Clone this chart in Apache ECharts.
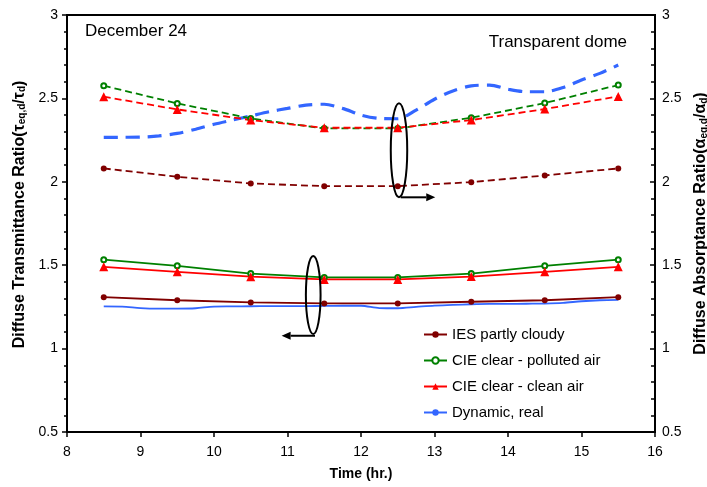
<!DOCTYPE html>
<html>
<head>
<meta charset="utf-8">
<script src="https://cdn.jsdelivr.net/npm/echarts@6/dist/echarts.min.js"></script>
<style>
html,body{margin:0;padding:0;background:#fff;}
#chart{width:707px;height:487px;}
</style>
</head>
<body>
<div id="chart"></div>
<script>
// ---- data ----
var hours = [8.5, 9.5, 10.5, 11.5, 12.5, 13.5, 14.5, 15.5];
// Diffuse transmittance ratio (left axis, solid lines)
var iesTrans = [1.308, 1.290, 1.277, 1.271, 1.271, 1.281, 1.290, 1.308];
var ciePollutedTrans = [1.533, 1.496, 1.450, 1.427, 1.427, 1.450, 1.496, 1.533];
var cieCleanTrans = [1.490, 1.460, 1.431, 1.415, 1.415, 1.432, 1.460, 1.490];
// Diffuse absorptance ratio (right axis, dashed lines)
var iesAbs = [2.080, 2.030, 1.990, 1.974, 1.974, 1.998, 2.038, 2.080];
var ciePollutedAbs = [2.576, 2.470, 2.380, 2.320, 2.320, 2.384, 2.472, 2.580];
var cieCleanAbs = [2.510, 2.434, 2.370, 2.324, 2.324, 2.370, 2.436, 2.512];
// Dynamic, real (finer time resolution)
var dynHours = [8.5, 8.75, 9.0, 9.25, 9.5, 9.75, 10.0, 10.25, 10.5, 10.75, 11.0, 11.25, 11.5, 11.75, 12.0, 12.25, 12.5, 12.75, 13.0, 13.25, 13.5, 13.75, 14.0, 14.25, 14.5, 14.75, 15.0, 15.25, 15.5];
var dynTrans = [1.253, 1.252, 1.243, 1.240, 1.240, 1.242, 1.252, 1.253, 1.254, 1.255, 1.255, 1.255, 1.256, 1.257, 1.257, 1.243, 1.242, 1.250, 1.258, 1.262, 1.266, 1.268, 1.268, 1.269, 1.270, 1.274, 1.284, 1.290, 1.292];
var dynAbs = [2.266, 2.267, 2.268, 2.275, 2.290, 2.315, 2.345, 2.370, 2.395, 2.420, 2.440, 2.460, 2.465, 2.440, 2.400, 2.380, 2.378, 2.430, 2.495, 2.545, 2.575, 2.580, 2.555, 2.540, 2.540, 2.565, 2.610, 2.650, 2.700];
var legendNames = ['IES partly cloudy', 'CIE clear - polluted air', 'CIE clear - clean air', 'Dynamic, real'];
// annotation anchors (data units): ellipse centre/radii, arrow start/end
var leftEllipse = {x: 11.35, y: 1.321, rx: 0.1, ry: 0.234};
var leftArrow = {x1: 11.374, x2: 10.92, y: 1.077};
var rightEllipse = {x: 12.517, y: 2.189, rx: 0.112, ry: 0.282};
var rightArrow = {x1: 12.54, x2: 13.01, y: 1.907};

function pairs(xs, ys) { return xs.map(function (x, i) { return [x, ys[i]]; }); }

var C_IES = '#800000', C_POL = '#008000', C_CLN = '#FF0000', C_DYN = '#3366FF';
var font = 'Liberation Sans, Arial, sans-serif';

var chart = echarts.init(document.getElementById('chart'));
var axisCommon = {
  type: 'value', min: 0.5, max: 3, interval: 0.5,
  axisLine: {show: true, lineStyle: {color: '#000', width: 2}},
  splitLine: {show: false},
  axisLabel: {color: '#000', fontSize: 14, fontFamily: font},
  minorTick: {show: true, splitNumber: 5, length: 3, lineStyle: {color: '#000', width: 1.5}},
  nameLocation: 'middle', nameRotate: 90
};
var subRich = {s: {fontSize: 10, fontWeight: 'bold', fontFamily: font, verticalAlign: 'bottom', padding: [7, 0, 0, 0]}};
var option = {
  animation: false,
  backgroundColor: '#fff',
  textStyle: {fontFamily: font},
  grid: {left: 67, right: 52, top: 15, bottom: 55, show: true, borderColor: '#000', borderWidth: 2, containLabel: false, outerBoundsMode: 'none'},
  legend: {
    data: legendNames, orient: 'vertical', left: 418, top: 322,
    itemWidth: 23, itemHeight: 8, itemGap: 11,
    textStyle: {fontSize: 15, color: '#000', fontFamily: font}
  },
  xAxis: {
    type: 'value', min: 8, max: 16, interval: 1,
    name: 'Time (hr.)', nameLocation: 'middle', nameGap: 35,
    nameTextStyle: {fontSize: 14, fontWeight: 'bold', color: '#000', fontFamily: font},
    axisLine: {lineStyle: {color: '#000', width: 2}},
    axisTick: {length: 5, lineStyle: {color: '#000', width: 1.5}},
    axisLabel: {color: '#000', fontSize: 14, margin: 13, fontFamily: font},
    splitLine: {show: false}
  },
  yAxis: [
    Object.assign({}, axisCommon, {
      position: 'left',
      name: 'Diffuse Transmittance Ratio(τ{s|eq,d}/τ{s|d})', nameGap: 38,
      nameTextStyle: {fontSize: 16, fontWeight: 'bold', color: '#000', fontFamily: font, padding: [0, 0, 0, 18], rich: subRich},
      axisTick: {length: 5, lineStyle: {color: '#000', width: 1.5}},
      axisLabel: {color: '#000', fontSize: 14, margin: 9, fontFamily: font}
    }),
    Object.assign({}, axisCommon, {
      position: 'right',
      name: 'Diffuse Absorptance Ratio(α{s|eq,d}/α{s|d})', nameGap: 37,
      nameTextStyle: {fontSize: 16, fontWeight: 'bold', color: '#000', fontFamily: font, rich: subRich},
      axisTick: {inside: true, length: 5, lineStyle: {color: '#000', width: 1.5}},
      minorTick: {show: true, splitNumber: 5, length: 4, lineStyle: {color: '#000', width: 1.5}},
      axisLabel: {color: '#000', fontSize: 14, margin: 7, fontFamily: font}
    })
  ],
  series: [
    {name: legendNames[0], type: 'line', yAxisIndex: 0, data: pairs(hours, iesTrans), symbol: 'circle', symbolSize: 6,
      itemStyle: {color: C_IES}, lineStyle: {color: C_IES, width: 1.8}, z: 4},
    {name: legendNames[1], type: 'line', yAxisIndex: 0, data: pairs(hours, ciePollutedTrans), symbol: 'emptyCircle', symbolSize: 5,
      itemStyle: {color: C_POL, borderWidth: 1.5}, lineStyle: {color: C_POL, width: 1.8}, z: 4},
    {name: legendNames[2], type: 'line', yAxisIndex: 0, data: pairs(hours, cieCleanTrans), symbol: 'triangle', symbolSize: 9,
      itemStyle: {color: C_CLN}, lineStyle: {color: C_CLN, width: 1.8}, z: 4},
    {name: legendNames[3], type: 'line', yAxisIndex: 0, data: pairs(dynHours, dynTrans), symbol: 'none', smooth: 0.3,
      itemStyle: {color: C_DYN}, lineStyle: {color: C_DYN, width: 1.8}, z: 3},
    {name: 'IES partly cloudy (abs)', type: 'line', yAxisIndex: 1, data: pairs(hours, iesAbs), symbol: 'circle', symbolSize: 6,
      itemStyle: {color: C_IES}, lineStyle: {color: C_IES, width: 1.8, type: [7, 4]}, z: 4},
    {name: 'CIE clear - polluted air (abs)', type: 'line', yAxisIndex: 1, data: pairs(hours, ciePollutedAbs), symbol: 'emptyCircle', symbolSize: 5,
      itemStyle: {color: C_POL, borderWidth: 1.5}, lineStyle: {color: C_POL, width: 1.8, type: [7, 4]}, z: 4},
    {name: 'CIE clear - clean air (abs)', type: 'line', yAxisIndex: 1, data: pairs(hours, cieCleanAbs), symbol: 'triangle', symbolSize: 9,
      itemStyle: {color: C_CLN}, lineStyle: {color: C_CLN, width: 1.8, type: [7, 4]}, z: 4},
    {name: 'Dynamic, real (abs)', type: 'line', yAxisIndex: 1, data: pairs(dynHours, dynAbs), symbol: 'none', smooth: 0.3,
      itemStyle: {color: C_DYN}, lineStyle: {color: C_DYN, width: 3.2, type: [14, 8]}, z: 3}
  ]
};
chart.setOption(option);

function px(x, y) { return chart.convertToPixel({xAxisIndex: 0, yAxisIndex: 0}, [x, y]); }
function ellipseGraphic(e) {
  var c = px(e.x, e.y), r = px(e.x + e.rx, e.y + e.ry);
  return {type: 'ellipse', shape: {cx: c[0], cy: c[1], rx: Math.abs(r[0] - c[0]), ry: Math.abs(c[1] - r[1])},
    style: {fill: 'none', stroke: '#000', lineWidth: 2}, z: 100};
}
function arrowGraphics(a) {
  var p1 = px(a.x1, a.y), p2 = px(a.x2, a.y);
  var dir = p2[0] > p1[0] ? 1 : -1, hl = 9, hw = 4;
  return [
    {type: 'line', shape: {x1: p1[0], y1: p1[1], x2: p2[0] - dir * hl, y2: p2[1]}, style: {stroke: '#000', lineWidth: 2}, z: 100},
    {type: 'polygon', shape: {points: [[p2[0], p2[1]], [p2[0] - dir * hl, p2[1] - hw], [p2[0] - dir * hl, p2[1] + hw]]}, style: {fill: '#000'}, z: 100}
  ];
}
var graphics = [
  {type: 'text', left: 85, top: 23, style: {text: 'December 24', fontSize: 17, fontFamily: font, fill: '#000'}, z: 100},
  {type: 'text', right: 80, top: 34, style: {text: 'Transparent dome', fontSize: 17, fontFamily: font, fill: '#000'}, z: 100},
  ellipseGraphic(leftEllipse),
  ellipseGraphic(rightEllipse)
].concat(arrowGraphics(leftArrow), arrowGraphics(rightArrow));
chart.setOption({graphic: graphics});
</script>
</body>
</html>
